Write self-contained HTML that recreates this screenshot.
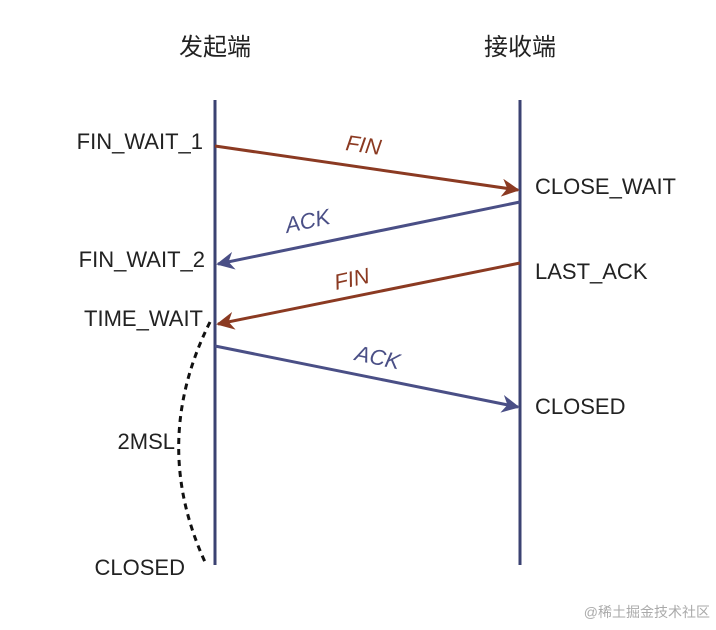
<!DOCTYPE html>
<html><head><meta charset="utf-8"><style>
html,body{margin:0;padding:0;background:#fff;}
svg text{font-family:"Liberation Sans","Noto Sans CJK SC",sans-serif;}
</style></head><body>
<svg width="716" height="625" viewBox="0 0 716 625" xmlns="http://www.w3.org/2000/svg">
<defs>
<marker id="ar" viewBox="0 0 10 10" refX="9" refY="5" markerWidth="6" markerHeight="6" orient="auto"><path d="M0,0 L10,5 L0,10 L3,5 z" fill="#8b3a22"/></marker>
<marker id="ab" viewBox="0 0 10 10" refX="9" refY="5" markerWidth="6" markerHeight="6" orient="auto"><path d="M0,0 L10,5 L0,10 L3,5 z" fill="#4a4f86"/></marker>
</defs>
<text x="215" y="55" font-size="24" text-anchor="middle" fill="#222">发起端</text>
<text x="520" y="55" font-size="24" text-anchor="middle" fill="#222">接收端</text>
<line x1="215" y1="100" x2="215" y2="565" stroke="#3b4272" stroke-width="3"/>
<line x1="520" y1="100" x2="520" y2="565" stroke="#3b4272" stroke-width="3"/>
<g stroke-width="3" fill="none">
<line x1="215" y1="146" x2="518" y2="190" stroke="#8b3a22" marker-end="url(#ar)"/>
<line x1="520" y1="202" x2="218" y2="264" stroke="#4a4f86" marker-end="url(#ab)"/>
<line x1="520" y1="263" x2="218" y2="324" stroke="#8b3a22" marker-end="url(#ar)"/>
<line x1="215" y1="346" x2="518" y2="407" stroke="#4a4f86" marker-end="url(#ab)"/>
<path d="M210,322 Q150,442 205,562" stroke="#111" stroke-dasharray="6,5"/>
</g>
<g font-size="22" font-style="italic">
<text x="0" y="0" fill="#8b3a22" transform="translate(345,150) rotate(8)">FIN</text>
<text x="0" y="0" fill="#4a4f86" transform="translate(287,233) rotate(-12)">ACK</text>
<text x="0" y="0" fill="#8b3a22" transform="translate(336,290) rotate(-12)">FIN</text>
<text x="0" y="0" fill="#4a4f86" transform="translate(354,360) rotate(12)">ACK</text>
</g>
<g font-size="22" fill="#222">
<text x="203" y="149" text-anchor="end">FIN_WAIT_1</text>
<text x="205" y="267" text-anchor="end">FIN_WAIT_2</text>
<text x="203" y="326" text-anchor="end">TIME_WAIT</text>
<text x="175" y="449" text-anchor="end">2MSL</text>
<text x="185" y="575" text-anchor="end">CLOSED</text>
<text x="535" y="194">CLOSE_WAIT</text>
<text x="535" y="279">LAST_ACK</text>
<text x="535" y="414">CLOSED</text>
</g>
<text x="710" y="617" font-size="14" text-anchor="end" fill="#aaa">@稀土掘金技术社区</text>
</svg>
</body></html>
